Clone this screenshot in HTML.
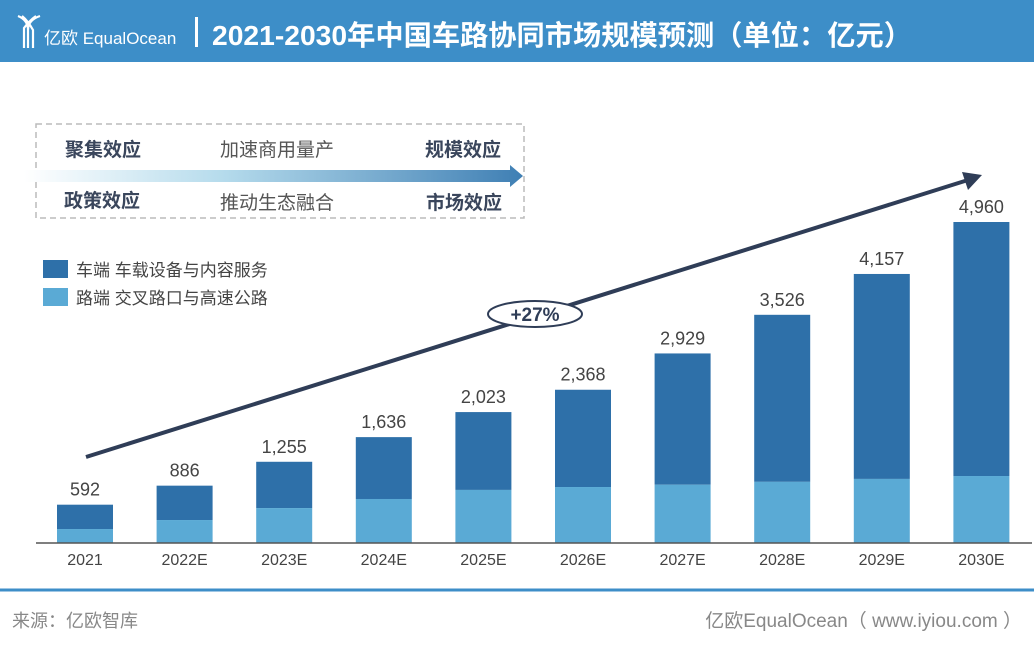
<!DOCTYPE html>
<html><head><meta charset="utf-8"><style>
body{margin:0;width:1034px;height:646px;overflow:hidden;background:#fff;font-family:"Liberation Sans","Noto Sans CJK SC",sans-serif}
</style></head><body>
<svg width="1034" height="646" viewBox="0 0 1034 646" xmlns="http://www.w3.org/2000/svg" font-family="Liberation Sans, Noto Sans CJK SC, sans-serif">
<defs>
<linearGradient id="g" x1="0" x2="1"><stop offset="0" stop-color="#fff"/><stop offset="0.4" stop-color="#b5dbec"/><stop offset="1" stop-color="#3f7fb4"/></linearGradient>
</defs>
<rect x="0" y="0" width="1034" height="62" fill="#3d8ec8"/>
<g fill="none" stroke="#fff" stroke-width="2.2">
<path d="M18 16 Q28 20 28 30 V48 M40 16 Q28 20 28 30 M22 16 Q28 21 33 30 V48 M36 16 Q30 20 24 28 V48"/>
</g>
<text x="44" y="44" fill="#fff" font-size="17">亿欧 EqualOcean</text>
<rect x="195" y="17" width="3" height="30" fill="#fff"/>
<text x="212" y="45" fill="#fff" font-size="28" font-weight="bold" textLength="700" lengthAdjust="spacingAndGlyphs">2021-2030年中国车路协同市场规模预测（单位：亿元）</text>

<rect x="36" y="124" width="488" height="94" fill="none" stroke="#bbb" stroke-width="1.5" stroke-dasharray="6,4"/>
<path d="M24 170 L510 170 L510 165 L523 176 L510 187 L510 182 L24 182 Z" fill="url(#g)"/>
<g font-size="19" fill="#3a465c">
<text x="65" y="156" font-weight="bold">聚集效应</text>
<text x="220" y="156" fill="#555">加速商用量产</text>
<text x="425" y="156" font-weight="bold">规模效应</text>
<text x="64" y="207" font-weight="bold">政策效应</text>
<text x="220" y="209" fill="#555">推动生态融合</text>
<text x="426" y="209" font-weight="bold">市场效应</text>
</g>
<rect x="43" y="260" width="25" height="18" fill="#2e70a9"/>
<text x="76" y="276" font-size="17" fill="#444">车端  车载设备与内容服务</text>
<rect x="43" y="288" width="25" height="18" fill="#5aaad5"/>
<text x="76" y="304" font-size="17" fill="#444">路端  交叉路口与高速公路</text>

<g id="chart"></g>
<line x1="86" y1="457" x2="968" y2="180" stroke="#2f3d57" stroke-width="4"/>
<path d="M982 175 L962 172 L968 190 Z" fill="#2f3d57"/>
<ellipse cx="535" cy="314" rx="47" ry="13" fill="#fff" stroke="#2f3d57" stroke-width="2"/>
<text x="535" y="321" font-size="19" font-weight="bold" fill="#2f3d57" text-anchor="middle">+27%</text>

<line x1="0" y1="590" x2="1034" y2="590" stroke="#3d8ec8" stroke-width="3"/>
<text x="12" y="627" font-size="18" fill="#888">来源：亿欧智库</text>
<text x="1022" y="627" font-size="19" fill="#888" text-anchor="end">亿欧EqualOcean（ www.iyiou.com ）</text>
</svg>
<script>
const categories=["2021","2022E","2023E","2024E","2025E","2026E","2027E","2028E","2029E","2030E"];
const totals=[592,886,1255,1636,2023,2368,2929,3526,4157,4960];
const roadValues=[216,355,540,680,820,865,900,945,990,1035];
const totalLabels=["592","886","1,255","1,636","2,023","2,368","2,929","3,526","4,157","4,960"];
const NS="http://www.w3.org/2000/svg";
const g=document.getElementById("chart");
const baseY=543,scale=321/4960;
const y=v=>baseY-v*scale;
const xc=i=>85+i*99.6;
const bw=56;
function mk(t,a){const e=document.createElementNS(NS,t);for(const k in a)e.setAttribute(k,a[k]);g.appendChild(e);return e;}
categories.forEach((c,i)=>{
  let r=mk("rect",{x:xc(i)-bw/2,y:y(totals[i]),width:bw,height:(totals[i]-roadValues[i])*scale,fill:"#2e70a9"});
  
  
  let r2=mk("rect",{x:xc(i)-bw/2,y:y(roadValues[i]),width:bw,height:roadValues[i]*scale,fill:"#5aaad5"});
  
  
  let t=mk("text",{x:xc(i),y:y(totals[i])-9,"font-size":18,fill:"#444","text-anchor":"middle"});
  t.textContent=totalLabels[i];
  
  
  let l=mk("text",{x:xc(i),y:565,"font-size":16,fill:"#444","text-anchor":"middle"});
  l.textContent=c;
  
  
});
let ax=mk("line",{x1:36,y1:baseY,x2:1032,y2:baseY,stroke:"#555","stroke-width":1.5});


</script>
</body></html>
